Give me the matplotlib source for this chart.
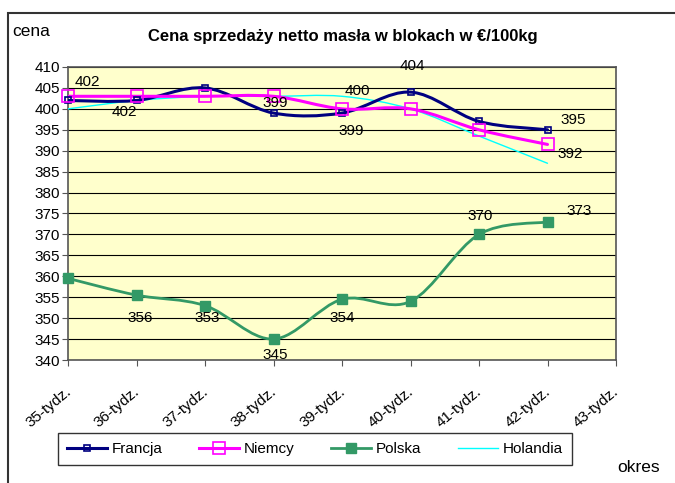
import numpy as np, matplotlib
matplotlib.use('Agg'); import matplotlib.pyplot as plt
import matplotlib.transforms as mt
from matplotlib.path import Path
from matplotlib.patches import PathPatch, Rectangle
from matplotlib.lines import Line2D
plt.rcParams.update({'font.family':['Liberation Sans','DejaVu Sans'],'font.size':11})

weeks=['35-tydz.','36-tydz.','37-tydz.','38-tydz.','39-tydz.','40-tydz.','41-tydz.','42-tydz.','43-tydz.']
francja=[402,402,405,399,399,404,397,395]
niemcy=[403,403,403,403,400,400,395,391.5]
polska=[359.5,355.5,353,345,354.5,354,370,373]
holandia=[400,402,403,403,403,400,393.5,387]
# (text, week index, value) of the data labels as they sit in the chart
lab_fr=[('402',0.28,406.3),('402',0.83,399.2),('399',3.03,401.5),('400',4.23,404.3),('399',4.14,394.6),('404',5.03,410.3),('395',7.38,397.4),('392',7.33,389.2)]
lab_pl=[('356',1.06,350.0),('353',2.03,350.0),('345',3.02,341.2),('354',4.0,350.0),('370',6.02,374.3),('373',7.46,375.5)]

def smooth(ax,y,color,lw,z):
    x=np.arange(len(y),dtype=float); y=np.asarray(y,float)
    p=np.c_[x,y]; verts=[p[0]]; codes=[Path.MOVETO]
    for i in range(len(p)-1):
        a=p[max(i-1,0)]; b=p[min(i+2,len(p)-1)]
        verts+=[p[i]+(p[i+1]-a)/6, p[i+1]-(b-p[i])/6, p[i+1]]; codes+=[Path.CURVE4]*3
    ax.add_patch(PathPatch(Path(verts,codes),fc='none',ec=color,lw=lw,zorder=z,capstyle='round',joinstyle='round'))

fig=plt.figure(figsize=(6.75,4.83),dpi=100)
fig.patches.append(Rectangle((8/675,-0.1),1.0,1-13/483+0.1,transform=fig.transFigure,fill=False,ec='#333333',lw=1.5))
ax=fig.add_axes([68/675,1-360/483,548/675,293/483])
ax.set_facecolor('#FFFFCC')
ax.set_xlim(0,8); ax.set_ylim(340,410)
ax.set_yticks(np.arange(340,411,5))
ax.yaxis.grid(True,color='black',lw=0.8); ax.set_axisbelow(True)
for s in ax.spines.values(): s.set_color('#555555'); s.set_linewidth(1.2)
ax.tick_params(axis='y',length=4,color='#555555',pad=2,labelsize=11)
ax.tick_params(axis='x',length=4,color='#555555',pad=2)
ax.set_xticks(range(len(weeks)))
ax.set_xticklabels(weeks,rotation=40,ha='right',va='top',rotation_mode='anchor',fontsize=11)
off=mt.ScaledTranslation(-2.5/72,-11.5/72,fig.dpi_scale_trans)
for t in ax.get_xticklabels(): t.set_transform(t.get_transform()+off)

x=np.arange(len(francja))
smooth(ax,holandia,'#00FFFF',1.0,3)
smooth(ax,francja,'#000080',2.2,4)
smooth(ax,niemcy,'#FF00FF',2.2,5)
smooth(ax,polska,'#339966',2.0,4)
ax.plot(x,francja,ls='none',marker='s',ms=4,mfc='none',mec='#000080',mew=1.2,zorder=6,clip_on=False)
ax.plot(x,niemcy,ls='none',marker='s',ms=8,mfc='none',mec='#FF00FF',mew=1.2,zorder=6,clip_on=False)
ax.plot(x,polska,ls='none',marker='s',ms=7,color='#339966',zorder=6,clip_on=False)
for t,xi,yi in lab_fr+lab_pl:
    ax.text(xi,yi,t,ha='center',va='center',fontsize=11,zorder=7,clip_on=False)

fig.text(343/675,1-36/483,'Cena sprzedaży netto masła w blokach w €/100kg',ha='center',va='center',fontsize=12,fontweight='bold')
fig.text(12/675,1-32/483,'cena',ha='left',va='center',fontsize=12.5)
fig.text(617/675,1-467/483,'okres',ha='left',va='center',fontsize=12.5)
h=[Line2D([],[],color='#000080',lw=2.2,marker='s',ms=4,mfc='none',mew=1.2),
   Line2D([],[],color='#FF00FF',lw=2.2,marker='s',ms=8,mfc='none',mew=1.2),
   Line2D([],[],color='#339966',lw=2.0,marker='s',ms=7),
   Line2D([],[],color='#00FFFF',lw=1.0)]
lg=fig.legend(h,['Francja','Niemcy','Polska','Holandia'],loc='center',bbox_to_anchor=(315/675,1-449/483),ncol=4,
    frameon=True,fancybox=False,edgecolor='black',fontsize=11,handlelength=2.6,handletextpad=0.33,columnspacing=2.4,borderpad=0.6)
lg.get_frame().set_linewidth(1.0)
fig.savefig('out.png',dpi=100)
